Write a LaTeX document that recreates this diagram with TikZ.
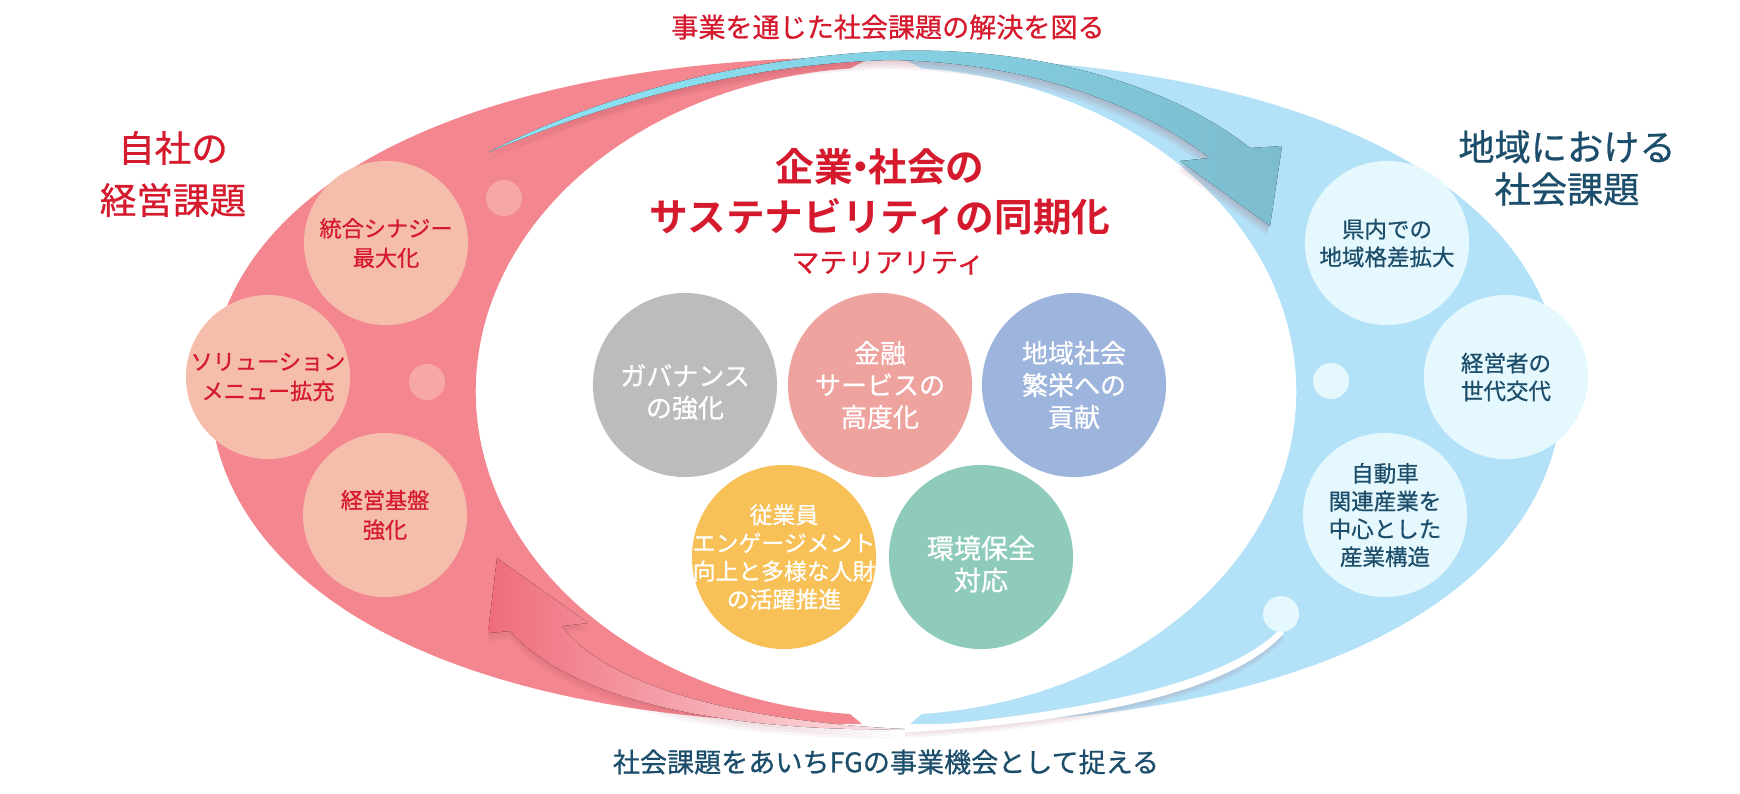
\documentclass[tikz,border=0pt]{standalone}
\usepackage{fontspec}
\newfontfamily\jp[FakeBold=0.7]{Noto Sans CJK JP}
\newfontfamily\jpb{Noto Sans CJK JP Bold}

\definecolor{brandred}{HTML}{D51A2E}
\definecolor{brandnavy}{HTML}{1C4E6B}
\definecolor{rosefill}{HTML}{F4868F}
\definecolor{peach}{HTML}{F5BDAC}
\definecolor{rosedot}{HTML}{F6A7A6}
\definecolor{skyfill}{HTML}{B3E2F8}
\definecolor{icefill}{HTML}{E5F8FD}
\definecolor{govgray}{HTML}{BCBCBC}
\definecolor{finpink}{HTML}{EEA39F}
\definecolor{areablue}{HTML}{9DB4DC}
\definecolor{staffyellow}{HTML}{F7C158}
\definecolor{ecogreen}{HTML}{8ECBBB}
\definecolor{arrowcyan}{HTML}{8EE6F8}
\definecolor{arrowlight}{HTML}{A6E3F3}
\definecolor{arrowteal}{HTML}{7DBCCF}
\definecolor{arrowrose}{HTML}{EF6C7A}
\definecolor{arrowpale}{HTML}{FCE6E9}
\definecolor{shadowtint}{HTML}{A04858}

\tikzset{
  every node/.style={font=\jp},
  ownball/.style={circle, inner sep=0pt, minimum size=1.64cm, fill=peach},
  areaball/.style={circle, inner sep=0pt, minimum size=1.64cm, fill=icefill},
  keyball/.style={circle, inner sep=0pt, minimum size=1.84cm, fill=#1},
  dot/.style={circle, inner sep=0pt, minimum size=0.36cm, fill=#1},
  owntext/.style={align=center, text=brandred, font=\jp\fontsize{6.3pt}{8.4pt}\selectfont},
  areatext/.style={align=center, text=brandnavy, font=\jp\fontsize{6.4pt}{7.9pt}\selectfont},
  keytext/.style={align=center, text=white, font=\jp\fontsize{7.4pt}{9.1pt}\selectfont},
}

% shapes of the two flows
\newcommand{\upperflow}{(487,153) .. controls (600,95) and (740,58) .. (890,51)
  .. controls (1040,46) and (1170,85) .. (1250,148) -- (1282,146) -- (1270,226)
  -- (1180,161) -- (1210,158) .. controls (1140,105) and (1030,62) .. (890,60)
  .. controls (750,64) and (610,100) .. (487,153) -- cycle}
\newcommand{\lowerflow}{(497,558) -- (588,623) -- (562,626)
  .. controls (610,690) and (750,722) .. (905,729)
  .. controls (760,732) and (580,710) .. (510,631) -- (488,633) -- cycle}
\newcommand{\lowertail}{(905,728) .. controls (1100,711) and (1230,680) .. (1279,630)
  -- (1284,633) .. controls (1236,688) and (1100,722) .. (905,732) -- cycle}

\begin{document}
\begin{tikzpicture}[x=0.01cm, y=-0.01cm]
  \useasboundingbox (0,0) rectangle (1740,793);

  % crescents
  \fill[skyfill] (900,57) .. controls (1330,57) and (1560,200) .. (1562,390)
    .. controls (1562,560) and (1372,724) .. (910,724)
    -- (922,714) arc[start angle=85, end angle=-85, x radius=410, y radius=324] -- cycle;
  \fill[rosefill] (872,57) .. controls (442,57) and (212,200) .. (210,390)
    .. controls (210,560) and (400,724) .. (862,724)
    -- (850,714) arc[start angle=95, end angle=265, x radius=410, y radius=324] -- cycle;

  % soft shadows
  \foreach \s in {3,6,9} {
    \fill[shadowtint, opacity=0.09, shift={(-\s/3,\s)}] \upperflow;
    \fill[shadowtint, opacity=0.06, shift={(0,\s)}] \lowerflow;
    \fill[shadowtint, opacity=0.06, shift={(0,\s/1.5)}] \lowertail;
  }

  % flows
  \fill[left color=arrowcyan, middle color=arrowlight, right color=arrowteal] \upperflow;
  \fill[left color=arrowrose, right color=arrowpale] \lowerflow;
  \fill[white] \lowertail;

  % own issues
  \node[ownball] (synergy) at (386,243) {};
  \node[ownball] (solution) at (268,377) {};
  \node[ownball] (base) at (385,515) {};
  \node[dot=rosedot] (od1) at (504,198) {};
  \node[dot=rosedot] (od2) at (427,382) {};
  \node[owntext] at (synergy) {統合シナジー\\最大化};
  \node[owntext] at (solution) {ソリューション\\メニュー拡充};
  \node[owntext] at (base) {経営基盤\\強化};

  % regional issues
  \node[areaball] (gap) at (1387,243) {};
  \node[areaball] (succession) at (1506,377) {};
  \node[areaball] (auto) at (1385,515) {};
  \node[dot=icefill] (ad1) at (1331,381) {};
  \node[dot=icefill] (ad2) at (1281,614) {};
  \node[areatext] at (gap) {県内での\\地域格差拡大};
  \node[areatext] at (succession) {経営者の\\世代交代};
  \node[areatext] at (auto) {自動車\\関連産業を\\中心とした\\産業構造};

  % materiality
  \node[keyball=govgray] (gov) at (685,385) {};
  \node[keyball=finpink] (fin) at (880,385) {};
  \node[keyball=areablue] (local) at (1074,385) {};
  \node[keyball=staffyellow] (staff) at (784,557) {};
  \node[keyball=ecogreen] (eco) at (981,557) {};
  \node[keytext] at ([yshift=-2pt]gov) {ガバナンス\\の強化};
  \node[keytext] at (fin) {金融\\サービスの\\高度化};
  \node[keytext] at (local) {地域社会\\繁栄への\\貢献};
  \node[keytext, font=\jp\fontsize{6.5pt}{8pt}\selectfont] at (staff) {従業員\\エンゲージメント\\向上と多様な人財\\の活躍推進};
  \node[keytext, font=\jp\fontsize{7.7pt}{9.1pt}\selectfont] at ([yshift=-2pt]eco) {環境保全\\対応};

  % titles
  \node[text=brandred, font=\jp\fontsize{7.7pt}{9pt}\selectfont] (solve) at (888,27) {事業を通じた社会課題の解決を図る};
  \node[text=brandnavy, font=\jp\fontsize{7.7pt}{9pt}\selectfont] (chance) at (886,762) {社会課題をあいちFGの事業機会として捉える};
  \node[align=center, text=brandred, font=\jp\fontsize{10.4pt}{14.8pt}\selectfont] (own) at (173,174) {自社の\\経営課題};
  \node[align=center, text=brandnavy, font=\jp\fontsize{10.3pt}{12pt}\selectfont] (region) at (1567,168) {地域における\\社会課題};
  \node[align=center, text=brandred, font=\jpb\fontsize{11pt}{14.2pt}\selectfont] (sync) at (880,192) {企業\hspace{-0.3em}・\hspace{-0.3em}社会の\\サステナビリティの同期化};
  \node[text=brandred, font=\jp\fontsize{7.9pt}{9pt}\selectfont] (mat) at (888,263) {マテリアリティ};
\end{tikzpicture}
\end{document}
